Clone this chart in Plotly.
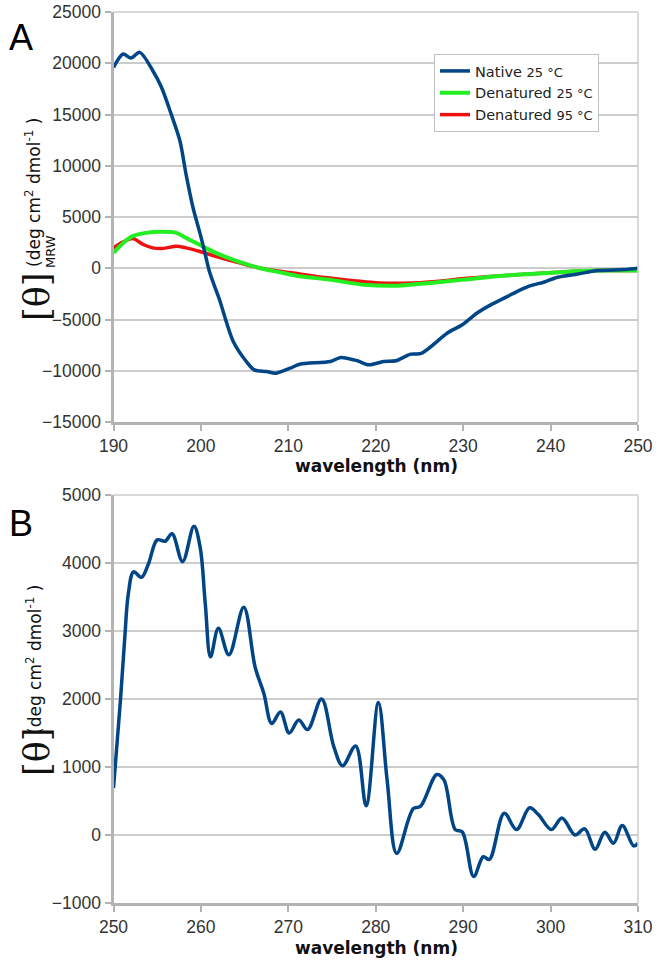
import plotly.graph_objects as go

# ---------------- Data ----------------
# Panel A: far-UV CD
wl_native = [190, 191.1, 192.0, 193.0, 194.5, 195.5, 196.6, 197.6, 198.3, 199.1, 199.9, 200.4,
             201.0, 202.1, 203.7, 205.2, 206.1, 207.5, 208.6, 210.2, 211.3, 214.8, 216.0, 217.9,
             219.2, 220.9, 222.3, 224.0, 225.2, 228.2, 229.9, 231.6, 233.2, 235.1, 236.2, 237.7,
             239.3, 240.8, 243.1, 245.4, 248.4, 250]
theta_native = [19600, 20900, 20500, 21060, 19270, 17630, 15030, 12420, 9160, 5900, 3400, 1700,
                -400, -3000, -7140, -9100, -9910, -10070, -10240, -9750, -9360, -9100, -8700, -9030,
                -9420, -9100, -9030, -8380, -8310, -6320, -5510, -4370, -3550, -2740, -2250, -1700,
                -1340, -880, -560, -230, -130, 0]

wl_den25 = [190, 191.1, 192.2, 193.7, 195.6, 197.2, 198.3, 199.8, 201.7, 204.4, 206.7, 209.4,
            211.3, 214.7, 218.6, 222.5, 226.3, 230.1, 233.9, 237.7, 241.5, 245.4, 250]
theta_den25 = [1500, 2470, 3130, 3450, 3550, 3450, 2960, 2310, 1500, 620, 30, -460,
               -780, -1110, -1600, -1700, -1430, -1110, -780, -560, -360, -230, -230]

wl_den95 = [190, 191.1, 192.2, 193.4, 194.5, 195.6, 197.2, 198.3, 199.8, 201.7, 204.4, 206.7,
            211.3, 214.7, 220.4, 224.4, 227.3, 230.1, 237.7, 241.5, 245.4, 250]
theta_den95 = [1990, 2570, 2900, 2320, 1990, 1930, 2150, 1990, 1660, 1170, 520, 30,
               -560, -950, -1430, -1430, -1270, -1010, -560, -360, -230, -230]

# Panel B: near-UV CD
wl_near = [250, 250.8, 251.3, 251.7, 252.3, 253.2, 254.0, 255.0, 255.9, 256.7, 257.9, 259.2,
           259.9, 260.5, 261.1, 262.0, 263.2, 264.9, 266.2, 267.2, 268.1, 269.1, 270.1, 271.2,
           272.2, 273.8, 275.2, 276.2, 277.7, 278.9, 280.3, 281.3, 282.4, 284.3, 285.1, 287.0,
           287.8, 289.1, 289.9, 291.2, 292.3, 293.0, 294.7, 296.1, 297.6, 298.6, 300.1, 301.3,
           302.8, 303.9, 305.1, 306.2, 307.2, 308.2, 309.5, 310]
theta_near = [690, 1990, 2920, 3550, 3870, 3790, 3990, 4340, 4320, 4430, 4020, 4540,
              4240, 3400, 2620, 3040, 2650, 3350, 2470, 2080, 1640, 1810, 1500, 1690,
              1550, 2000, 1300, 1020, 1310, 430, 1950, 810, -270, 390, 420, 890,
              810, 80, 45, -610, -320, -360, 320, 80, 400, 300, 80, 250,
              0, 90, -210, 40, -120, 140, -160, -120]

names = ["Native <span style='font-size:13px'>25 °C</span>",
         "Denatured <span style='font-size:13px'>25 °C</span>",
         "Denatured <span style='font-size:13px'>95 °C</span>"]

# ---------------- Figure ----------------
W, H = 662, 965
def fx(p):
    return p / W
def fy(p):
    return 1 - p / H

BLUE = "#004586"
GREEN = "#22ee22"
RED = "#ee1111"
GRID = "#cccccc"
AXIS = "#b3b3b3"
TICKFONT = dict(family="Liberation Sans, Arial, sans-serif", size=17.5, color="#333333")

fig = go.Figure()
fig.add_trace(go.Scatter(x=wl_den95, y=theta_den95, mode="lines", name=names[2], legendrank=3,
                         line=dict(color=RED, width=3.5, shape="spline", smoothing=0.8),
                         xaxis="x", yaxis="y"))
fig.add_trace(go.Scatter(x=wl_den25, y=theta_den25, mode="lines", name=names[1], legendrank=2,
                         line=dict(color=GREEN, width=4, shape="spline", smoothing=0.8),
                         xaxis="x", yaxis="y"))
fig.add_trace(go.Scatter(x=wl_native, y=theta_native, mode="lines", name=names[0], legendrank=1,
                         line=dict(color=BLUE, width=3.5, shape="spline", smoothing=0.8),
                         xaxis="x", yaxis="y"))
fig.add_trace(go.Scatter(x=wl_near, y=theta_near, mode="lines", showlegend=False,
                         line=dict(color=BLUE, width=3.5, shape="spline", smoothing=1.0),
                         xaxis="x2", yaxis="y2"))

xdom = [fx(113.5), fx(638)]
common_x = dict(showgrid=False, zeroline=False, showline=True, linecolor=AXIS, linewidth=3,
                ticks="outside", ticklen=6, tickwidth=2, tickcolor=AXIS, tickfont=TICKFONT,
                dtick=10, domain=xdom, automargin=False, ticklabeloverflow="allow")
common_y = dict(showgrid=True, gridcolor=GRID, gridwidth=1.5, zeroline=False, showline=True,
                linecolor=AXIS, linewidth=3, ticks="outside", ticklen=6, tickwidth=2,
                tickcolor=AXIS, tickfont=TICKFONT, tickformat="d", automargin=False,
                ticklabeloverflow="allow")

fig.update_layout(
    width=W, height=H,
    margin=dict(l=0, r=0, t=0, b=0),
    paper_bgcolor="white", plot_bgcolor="white",
    xaxis=dict(common_x, range=[190, 250], anchor="y", tick0=190),
    yaxis=dict(common_y, range=[-15000, 25000], dtick=5000, anchor="x",
               domain=[fy(422), fy(12)]),
    xaxis2=dict(common_x, range=[250, 310], anchor="y2", tick0=250),
    yaxis2=dict(common_y, range=[-1000, 5000], dtick=1000, anchor="x2",
                domain=[fy(903), fy(495)]),
    legend=dict(x=fx(434), y=fy(54), xanchor="left", yanchor="top",
                bgcolor="white", bordercolor="#c0c0c0", borderwidth=1,
                font=dict(family="DejaVu Sans, sans-serif", size=14.5, color="#222222"),
                itemwidth=30, tracegroupgap=0),
    showlegend=True,
)

# thin top/right borders
shapes = []
for xr, yr in (("x domain", "y domain"), ("x2 domain", "y2 domain")):
    shapes.append(dict(type="line", xref=xr, yref=yr, x0=0, x1=1, y0=1, y1=1,
                       line=dict(color=GRID, width=1.5)))
    shapes.append(dict(type="line", xref=xr, yref=yr, x0=1, x1=1, y0=0, y1=1,
                       line=dict(color=GRID, width=1.5)))
fig.update_layout(shapes=shapes)

ann = []
TITLEFONT = dict(family="DejaVu Sans, sans-serif", size=17, color="#111111")
# x axis titles
ann.append(dict(x=fx(376), y=fy(466), xref="paper", yref="paper", text="<b>wavelength (nm)</b>",
                showarrow=False, font=TITLEFONT, xanchor="center", yanchor="middle"))
ann.append(dict(x=fx(376), y=fy(948), xref="paper", yref="paper", text="<b>wavelength (nm)</b>",
                showarrow=False, font=TITLEFONT, xanchor="center", yanchor="middle"))
# panel letters
LETTER = dict(family="Liberation Sans, Arial, sans-serif", size=36, color="#000000")
ann.append(dict(x=fx(21), y=fy(37), xref="paper", yref="paper", text="A",
                showarrow=False, font=LETTER, xanchor="center", yanchor="middle"))
ann.append(dict(x=fx(21), y=fy(523), xref="paper", yref="paper", text="B",
                showarrow=False, font=LETTER, xanchor="center", yanchor="middle"))
# y axis titles (rotated)
THETA = dict(family="DejaVu Serif, Liberation Serif, serif", size=35, color="#111111")
UNIT = dict(family="DejaVu Sans, sans-serif", size=17, color="#111111")
# panel A
ann.append(dict(x=fx(37), y=fy(297), xref="paper", yref="paper", text="[θ]", textangle=-90,
                showarrow=False, font=THETA, xanchor="center", yanchor="middle"))
ann.append(dict(x=fx(50), y=fy(252), xref="paper", yref="paper", text="MRW", textangle=-90,
                showarrow=False, font=dict(family="DejaVu Sans, sans-serif", size=13, color="#111111"),
                xanchor="center", yanchor="middle"))
ann.append(dict(x=fx(33), y=fy(193), xref="paper", yref="paper",
                text="(deg cm<sup>2</sup> dmol<sup>-1</sup> )", textangle=-90,
                showarrow=False, font=UNIT, xanchor="center", yanchor="middle"))
# panel B
ann.append(dict(x=fx(37), y=fy(752), xref="paper", yref="paper", text="[θ]", textangle=-90,
                showarrow=False, font=THETA, xanchor="center", yanchor="middle"))
ann.append(dict(x=fx(34), y=fy(660), xref="paper", yref="paper",
                text="(deg cm<sup>2</sup> dmol<sup>-1</sup> )", textangle=-90,
                showarrow=False, font=UNIT, xanchor="center", yanchor="middle"))
fig.update_layout(annotations=ann)

# remove the default 8px page margin so the figure fills the window exactly
fig.write_html("out.html", config={"displayModeBar": False},
               post_script="document.body.style.margin='0';")
